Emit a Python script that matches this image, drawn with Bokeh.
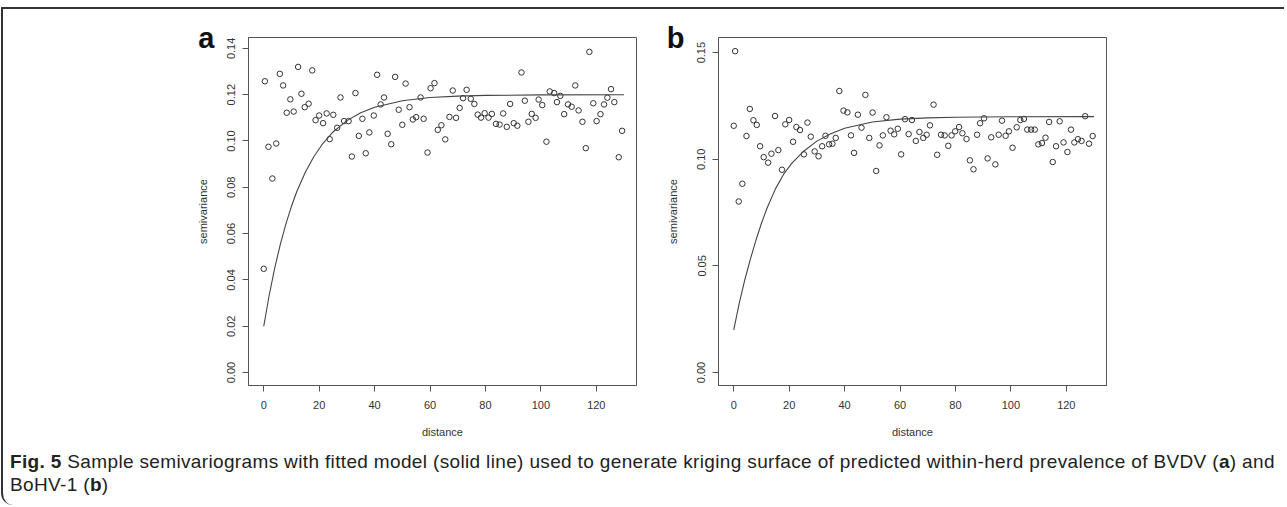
from bokeh.plotting import figure
from bokeh.models import (FixedTicker, PrintfTickFormatter, Range1d, Div, LinearAxis,
                          CustomJSTickFormatter)
from bokeh.layouts import row, column
from bokeh.embed import file_html
from bokeh.resources import INLINE

# ---------------- data ----------------
dist_a = [0.0, 0.4, 1.7, 3.1, 4.5, 5.8, 7.0, 8.3, 9.6, 10.8, 12.4, 13.6, 14.8, 16.2, 17.5,
          18.7, 20.0, 21.4, 22.7, 23.8, 25.1, 26.5, 27.7, 29.0, 30.6, 31.8, 33.1, 34.3, 35.6,
          36.8, 38.1, 39.7, 40.9, 42.2, 43.4, 44.7, 46.0, 47.4, 48.7, 50.0, 51.2, 52.6, 53.8,
          55.0, 56.6, 57.7, 59.1, 60.2, 61.6, 62.8, 64.1, 65.5, 67.0, 68.2, 69.4, 70.7, 71.9,
          73.2, 74.7, 76.0, 77.2, 78.4, 79.7, 81.1, 82.3, 83.8, 85.1, 86.4, 87.7, 88.9, 90.2,
          91.5, 93.0, 94.2, 95.5, 96.7, 98.1, 99.2, 100.5, 102.0, 103.2, 104.8, 105.8, 107.0,
          108.4, 109.8, 111.1, 112.4, 113.6, 115.0, 116.2, 117.5, 118.9, 120.1, 121.5, 122.8,
          124.0, 125.3, 126.5, 128.1, 129.3]
semiv_a = [0.0448, 0.1258, 0.0975, 0.0838, 0.0989, 0.1290, 0.1240, 0.1122, 0.1180, 0.1127,
           0.1320, 0.1204, 0.1146, 0.1161, 0.1305, 0.1090, 0.1110, 0.1077, 0.1119, 0.1008,
           0.1113, 0.1057, 0.1188, 0.1086, 0.1086, 0.0933, 0.1207, 0.1022, 0.1096, 0.0947,
           0.1037, 0.1110, 0.1286, 0.1158, 0.1188, 0.1031, 0.0986, 0.1277, 0.1135, 0.1070,
           0.1248, 0.1146, 0.1093, 0.1103, 0.1188, 0.1096, 0.0950, 0.1228, 0.1250, 0.1048,
           0.1068, 0.1007, 0.1104, 0.1218, 0.1100, 0.1143, 0.1185, 0.1221, 0.1182, 0.1160,
           0.1114, 0.1101, 0.1120, 0.1101, 0.1117, 0.1074, 0.1071, 0.1119, 0.1061, 0.1160,
           0.1077, 0.1066, 0.1296, 0.1174, 0.1083, 0.1117, 0.1100, 0.1179, 0.1155, 0.0997,
           0.1214, 0.1207, 0.1168, 0.1195, 0.1116, 0.1158, 0.1148, 0.1240, 0.1132, 0.1083,
           0.0969, 0.1385, 0.1163, 0.1086, 0.1116, 0.1158, 0.1187, 0.1224, 0.1168, 0.0930,
           0.1044]

dist_b = [0.0, 0.5, 1.8, 3.1, 4.6, 5.8, 7.1, 8.3, 9.5, 10.8, 12.4, 13.6, 14.9, 16.1, 17.4,
          18.6, 20.0, 21.4, 22.6, 23.9, 25.3, 26.6, 27.8, 29.2, 30.6, 31.9, 33.1, 34.4, 35.6,
          36.8, 38.1, 39.6, 41.0, 42.3, 43.4, 44.8, 46.1, 47.5, 48.9, 50.1, 51.4, 52.6, 53.8,
          55.1, 56.6, 57.9, 59.2, 60.4, 61.8, 63.1, 64.3, 65.7, 67.0, 68.4, 69.6, 70.8, 72.1,
          73.4, 74.8, 76.1, 77.4, 78.6, 79.9, 81.3, 82.5, 84.0, 85.2, 86.5, 87.8, 88.9, 90.3,
          91.6, 92.9, 94.4, 95.6, 96.8, 98.1, 99.3, 100.6, 102.1, 103.4, 104.7, 105.9, 107.3,
          108.6, 109.9, 111.2, 112.5, 113.8, 115.1, 116.3, 117.6, 119.0, 120.4, 121.7, 122.9,
          124.2, 125.5, 126.8, 128.2, 129.5]
semiv_b = [0.1157, 0.1507, 0.0802, 0.0885, 0.1109, 0.1236, 0.1183, 0.1161, 0.1061, 0.1010,
           0.0984, 0.1026, 0.1203, 0.1043, 0.0951, 0.1164, 0.1184, 0.1082, 0.1151, 0.1137,
           0.1023, 0.1172, 0.1106, 0.1037, 0.1014, 0.1061, 0.1110, 0.1070, 0.1073, 0.1100,
           0.1320, 0.1228, 0.1220, 0.1112, 0.1030, 0.1209, 0.1148, 0.1302, 0.1100, 0.1219,
           0.0945, 0.1065, 0.1112, 0.1197, 0.1134, 0.1117, 0.1143, 0.1023, 0.1188, 0.1118,
           0.1184, 0.1086, 0.1128, 0.1100, 0.1115, 0.1159, 0.1256, 0.1021, 0.1115, 0.1112,
           0.1063, 0.1112, 0.1131, 0.1151, 0.1122, 0.1095, 0.0995, 0.0953, 0.1115, 0.1169,
           0.1192, 0.1004, 0.1103, 0.0976, 0.1115, 0.1181, 0.1110, 0.1131, 0.1054, 0.1150,
           0.1184, 0.1189, 0.1139, 0.1139, 0.1139, 0.1070, 0.1076, 0.1101, 0.1175, 0.0987,
           0.1061, 0.1178, 0.1079, 0.1034, 0.1139, 0.1079, 0.1094, 0.1086, 0.1202, 0.1073,
           0.1109]

# fitted model line
model_dist = [0, 2, 4, 6, 8, 10, 12, 15, 18, 21, 25, 30, 35, 40, 50, 60, 70, 80, 100, 130]
model_a = [0.0200, 0.0336, 0.0453, 0.0555, 0.0642, 0.0718, 0.0784, 0.0865, 0.0931, 0.0984,
           0.1039, 0.1088, 0.1122, 0.1146, 0.1174, 0.1188, 0.1194, 0.1197, 0.1199, 0.1200]
model_b = [0.0200, 0.0325, 0.0435, 0.0532, 0.0620, 0.0700, 0.0770, 0.0860, 0.0930, 0.0982,
           0.1035, 0.1085, 0.1120, 0.1145, 0.1175, 0.1188, 0.1194, 0.1197, 0.1199, 0.1200]

x_ticks = [0, 20, 40, 60, 80, 100, 120]
y_ticks_a = [0.00, 0.02, 0.04, 0.06, 0.08, 0.10, 0.12, 0.14]
y_ticks_b = [0.00, 0.05, 0.10, 0.15]

x_label = "distance"
y_label = "semivariance"
panel_labels = ["a", "b"]
caption_html = ("<b>Fig. 5</b> Sample semivariograms with fitted model (solid line) used to generate "
                "kriging surface of predicted within-herd prevalence of BVDV (<b>a</b>) and<br>"
                "BoHV-1 (<b>b</b>)")

FONT = "Liberation Sans"
INK = "#333333"
BOX = "#555555"
FRAME_H = 348
TOP = 28


def panel(dist, semiv, model, yticks, yrange, width, left, right, tag):
    p = figure(width=width, height=TOP + FRAME_H + 60, output_backend="svg",
               toolbar_location=None,
               x_range=Range1d(-5.5, 134.5), y_range=Range1d(*yrange),
               min_border_left=left, min_border_right=right,
               min_border_top=TOP, min_border_bottom=60)
    p.grid.visible = False
    p.outline_line_color = BOX
    p.outline_line_width = 1
    p.background_fill_color = "white"
    p.border_fill_color = "white"

    p.scatter(dist, semiv, marker="circle", size=5.5, fill_color=None,
              line_color=INK, line_width=1)
    p.line(model_dist, model, line_color="#444444", line_width=1.1)

    xa = p.xaxis[0]
    xa.ticker = FixedTicker(ticks=x_ticks)
    xa.axis_label = x_label
    ya = p.yaxis[0]
    ya.ticker = FixedTicker(ticks=yticks)
    ya.formatter = PrintfTickFormatter(format="%.2f")
    ya.axis_label = y_label
    ya.major_label_orientation = "vertical"
    for ax in (xa, ya):
        ax.axis_line_color = BOX
        ax.major_tick_line_color = BOX
        ax.minor_tick_line_color = None
        ax.major_tick_out = 6
        ax.major_tick_in = 0
        ax.major_label_text_font = FONT
        ax.major_label_text_font_size = "11px"
        ax.major_label_text_color = INK
        ax.axis_label_text_font = FONT
        ax.axis_label_text_font_size = "11px"
        ax.axis_label_text_font_style = "normal"
        ax.axis_label_text_color = INK
    xa.major_label_standoff = 9
    xa.axis_label_standoff = 14
    ya.major_label_standoff = 7
    ya.axis_label_standoff = 16

    # panel tag ("a" / "b") drawn as the single label of an outer, line-less axis
    tag_axis = LinearAxis(ticker=FixedTicker(ticks=[yrange[1] - 0.0002]),
                          formatter=CustomJSTickFormatter(code="return %r;" % tag),
                          axis_line_color=None, major_tick_line_color=None,
                          minor_tick_line_color=None, major_tick_out=0, major_tick_in=0,
                          major_label_standoff=-21,
                          major_label_text_font=FONT, major_label_text_font_size="29px",
                          major_label_text_font_style="bold",
                          major_label_text_color="#111111")
    p.add_layout(tag_axis, "left")
    return p


pa = panel(dist_a, semiv_a, model_a, y_ticks_a, (-0.0056, 0.1447), 655, 245, 22,
           panel_labels[0])
pb = panel(dist_b, semiv_b, model_b, y_ticks_b, (-0.0061, 0.1571), 626, 60, 178,
           panel_labels[1])

caption = Div(text=('<div style="font-family:\'Liberation Sans\';font-size:19px;color:#222;'
                    'letter-spacing:0.35px;line-height:23px;padding-top:5px;padding-left:7px;'
                    'white-space:nowrap;">' + caption_html + '</div>'),
              width=1281, height=60, margin=(0, 0, 0, 0))

layout = column(row(pa, pb, spacing=0), caption, spacing=0, margin=(7, 0, 0, 1),
                styles={"border-top": "2px solid #333333", "border-left": "2px solid #333333",
                        "border-bottom-left-radius": "12px"})

open("out.html", "w").write(file_html(layout, INLINE))
